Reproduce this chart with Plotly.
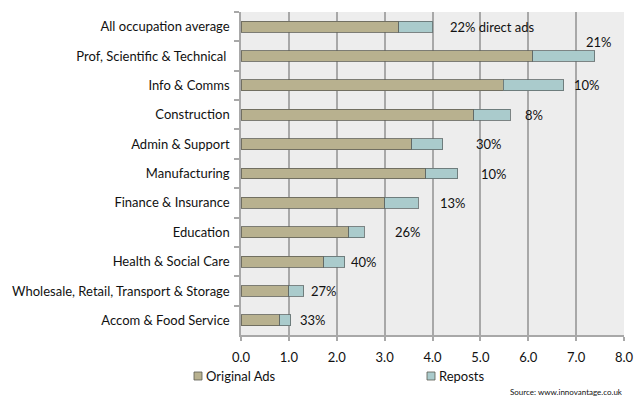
import plotly.graph_objects as go

categories = [
    "All occupation average",
    "Prof, Scientific & Technical ",
    "Info & Comms",
    "Construction",
    "Admin & Support",
    "Manufacturing",
    "Finance & Insurance",
    "Education",
    "Health & Social Care",
    "Wholesale, Retail, Transport & Storage",
    "Accom & Food Service",
]
original_ads = [3.30, 6.09, 5.48, 4.86, 3.57, 3.86, 3.00, 2.25, 1.73, 1.00, 0.81]
reposts = [0.71, 1.30, 1.26, 0.76, 0.64, 0.67, 0.70, 0.32, 0.44, 0.31, 0.23]
labels = ["22% direct ads", "21%", "10%", "8%", "30%", "10%", "13%", "26%", "40%", "27%", "33%"]
series_names = ["Original Ads", "Reposts"]
x_ticks = [0, 1, 2, 3, 4, 5, 6, 7, 8]

# label placement offsets in pixels (x, y) relative to the end of each bar
label_dx = [15, 4, 8, 13, 31, 21, 20, 29, 4, 5, 7]
label_dy = [0, 14, 0, 0, 0, 0, 0, 0, 0, 0, 0]

FONT = "Lato"
TXT = "#111111"
c_orig = "#B8B18F"
c_rep = "#AACBCC"
colors = [c_orig, c_rep]
edge = ["rgba(95,95,85,0.8)", "rgba(95,105,105,0.8)"]

# page body has an 8px default margin; compensate so the figure fills the window
OFF = 8
W, H = 644 - OFF, 399 - OFF
ML, MR, MT, MB = 241 - OFF, 20, 12 - OFF, 399 - 335
PW, PH = W - ML - MR, H - MT - MB


def px_x(px):
    return (px - OFF - ML) / PW


def px_y(py):
    return (H - MB - (py - OFF)) / PH


fig = go.Figure()
for name, vals, col, ec in zip(series_names, [original_ads, reposts], colors, edge):
    fig.add_trace(go.Bar(
        y=categories, x=vals, orientation="h", name=name,
        marker=dict(color=col, line=dict(color=ec, width=1)),
    ))

for cat, o, r, lab, dx, dy in zip(categories, original_ads, reposts, labels, label_dx, label_dy):
    total = o + r
    fig.add_annotation(x=total, y=cat, text=lab, showarrow=False,
                       xanchor="center" if dy else "left", yanchor="middle",
                       xshift=dx, yshift=dy,
                       font=dict(family=FONT, size=13, color=TXT))

# manual legend (keeps plot area fixed)
legend_px = [194, 427]
for name, col, lx in zip(series_names, colors, legend_px):
    fig.add_shape(type="rect", xref="paper", yref="paper",
                  x0=px_x(lx), x1=px_x(lx + 8), y0=px_y(380), y1=px_y(372),
                  fillcolor=col, line=dict(color="rgba(90,90,80,0.8)", width=1))
    fig.add_annotation(xref="paper", yref="paper", x=px_x(lx + 10), y=px_y(376),
                       xanchor="left", yanchor="middle", text=name, showarrow=False,
                       font=dict(family=FONT, size=13, color=TXT))

fig.add_annotation(xref="paper", yref="paper", x=px_x(625), y=px_y(392),
                   xanchor="right", yanchor="middle",
                   text="Source: www.innovantage.co.uk", showarrow=False,
                   font=dict(family=FONT, size=8, color="#111111"))

fig.update_layout(
    width=W, height=H,
    margin=dict(l=ML, r=MR, t=MT, b=MB),
    barmode="stack", bargap=0.63,
    plot_bgcolor="#EDEDED", paper_bgcolor="white",
    font=dict(family=FONT, size=13, color=TXT),
    showlegend=False,
)
fig.update_xaxes(
    range=[0, 8], tickvals=x_ticks, ticktext=[f"{v:.1f}" for v in x_ticks],
    showgrid=True, gridcolor="#A8A8A8", gridwidth=1.5,
    showline=True, linecolor="#A8A8A8", linewidth=1.5,
    ticks="outside", ticklen=4, tickcolor="#A8A8A8", tickwidth=1.5,
    zeroline=False, ticklabelstandoff=6, automargin=False,
    tickfont=dict(family=FONT, size=13, color=TXT),
)
fig.update_yaxes(
    categoryorder="array", categoryarray=categories, autorange="reversed",
    showline=True, linecolor="#A8A8A8", linewidth=1.5,
    ticks="outside", ticklen=5, tickcolor="#A8A8A8", tickwidth=1.5, tickson="boundaries",
    showgrid=False, ticklabelstandoff=7, automargin=False,
    tickfont=dict(family=FONT, size=13, color=TXT),
)

fig.write_html("out.html")
